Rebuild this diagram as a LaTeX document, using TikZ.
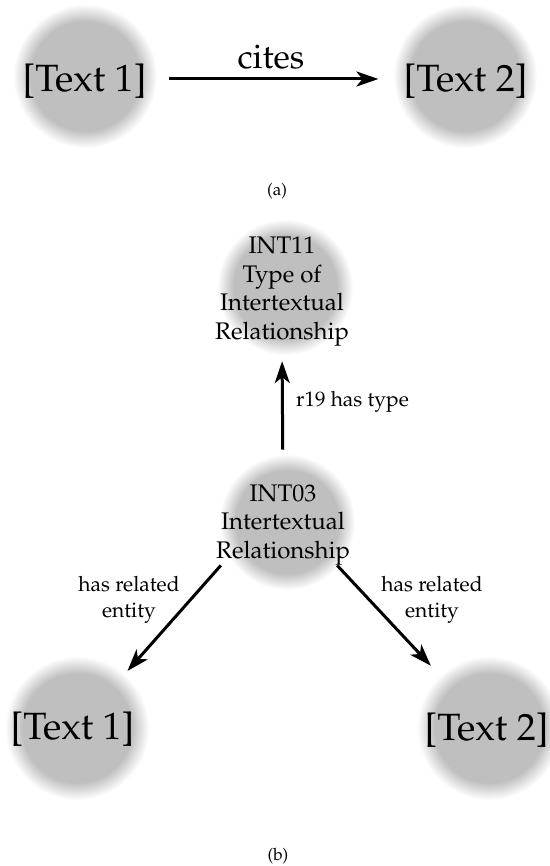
\documentclass[tikz,border=0pt]{standalone}
\usepackage[T1]{fontenc}
\usepackage{mathpazo}
\usetikzlibrary{arrows.meta}
\definecolor{blobgray}{RGB}{191,191,191}
\pgfdeclareradialshading{blob}{\pgfpoint{0bp}{0bp}}{color(0bp)=(blobgray); color(19bp)=(blobgray); color(25bp)=(white); color(50bp)=(white)}
\tikzset{
  blobnode/.style={circle, shading=blob, minimum size=144pt, inner sep=0pt, draw=none},
  bigtext/.style={inner sep=0pt, font=\fontsize{38}{42}\selectfont},
  midtext/.style={inner sep=0pt, align=center, font=\fontsize{24}{28.5}\selectfont},
  edgetext/.style={inner sep=0pt, align=center, font=\fontsize{21}{26}\selectfont},
  captext/.style={inner sep=0pt, font=\fontsize{17}{20}\selectfont},
  arr/.style={line width=3pt, -{Stealth[length=22pt,width=15pt,inset=6pt]}},
}
\begin{document}
\begin{tikzpicture}[x=1pt,y=-1pt]
\fill[white] (0,0) rectangle (549,866);
\useasboundingbox (0,0) rectangle (549,866);
% (a)
\node[blobnode] (c1) at (85,76) {};
\node[blobnode] (c2) at (465,76) {};
\node[bigtext] (t1) at (84.5,81) {[Text 1]};
\node[bigtext] (t2) at (465.5,81) {[Text 2]};
\draw[arr, shorten <=22pt, shorten >=25pt] ([yshift=2pt]t1.east) -- ([yshift=2pt]t2.west);
\node[inner sep=0pt, anchor=base, font=\fontsize{34}{38}\selectfont] (cites) at (271,69) {cites};
\node[captext] (capa) at (277,191) {(a)};
% (b)
\node[blobnode, minimum size=136pt] (c11) at (285,287) {};
\node[blobnode, minimum size=136pt] (c03) at (287,522) {};
\node[blobnode] (c3) at (77,728) {};
\node[blobnode] (c4) at (489,728) {};
\node[midtext] (i11) at (282,291.5) {INT11\\Type of\\Intertextual\\Relationship};
\node[midtext] (i03) at (283,525) {INT03\\Intertextual\\Relationship};
\node[bigtext] (t3) at (72.5,729.5) {[Text 1]};
\node[bigtext] (t4) at (486.5,730) {[Text 2]};
\draw[arr, shorten <=35pt, shorten >=15pt] (i03.north) -- (i11.south);
\node[edgetext, anchor=base west] (r19) at (296,406) {r19 has type};
\draw[arr, shorten >=4pt] ([xshift=5pt]i03.south west) -- (c3);
\draw[arr, shorten >=13pt] ([xshift=-13pt]i03.south east) -- (c4);
\node[edgetext] (l1) at (129,600) {has related\\entity};
\node[edgetext] (l2) at (432,600) {has related\\entity};
\node[captext] (capb) at (278,856) {(b)};
\end{tikzpicture}
\end{document}
